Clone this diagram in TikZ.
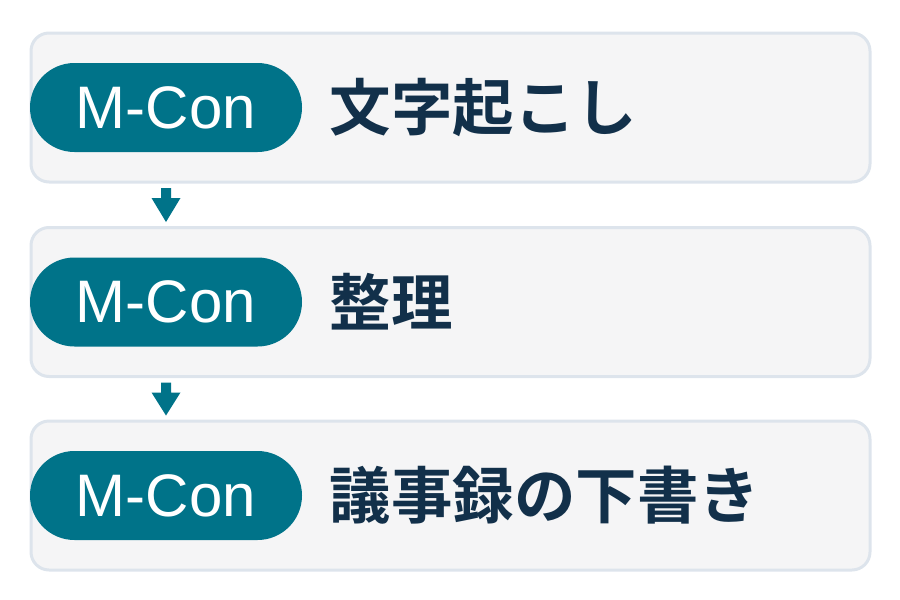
\documentclass[tikz,border=0pt]{standalone}
\usepackage{fontspec}
\setmainfont{Liberation Sans}
\newfontfamily\cjkb{Noto Sans CJK JP Bold}
\definecolor{boxfill}{HTML}{F5F5F6}
\definecolor{boxline}{HTML}{DDE4EC}
\definecolor{teal}{HTML}{007389}
\definecolor{navy}{HTML}{12304A}
\begin{document}
\begin{tikzpicture}[x=1pt,y=-1pt,
  stepbox/.style={draw=boxline,line width=3pt,fill=boxfill,rounded corners=18pt,minimum width=839pt,minimum height=149pt,inner sep=0pt},
  pill/.style={fill=teal,rounded corners=44.5pt,minimum width=272pt,minimum height=89pt,inner sep=0pt,text=white,font=\fontsize{60}{60}\selectfont},
  jlabel/.style={anchor=west,inner sep=0pt,text=navy,font=\cjkb\fontsize{61.5}{61.5}\selectfont},
  flowarrow/.style={fill=teal}]
\useasboundingbox (0,0) rectangle (900,600);
\foreach \i/\yc/\txt in {1/107.5/文字起こし,2/302/整理,3/495.5/議事録の下書き}{
  \node[stepbox] (b\i) at (450.5,\yc) {};
  \node[pill] (p\i) at (166,\yc) {M-Con};
  \node[jlabel] (t\i) at (329.5,\yc) {\txt};
}
\foreach \a/\b in {1/2,2/3}{
  \coordinate (s\a) at ([yshift=-4.5pt]b\a.south -| p\a.center);
  \coordinate (e\a) at ([yshift=4pt]b\b.north -| p\b.center);
  \fill[flowarrow] ([xshift=-5pt]s\a) -- ([shift={(-5,10)}]s\a) -- ([shift={(-14.5,10)}]s\a) -- (e\a)
    -- ([shift={(14.5,10)}]s\a) -- ([shift={(5,10)}]s\a) -- ([xshift=5pt]s\a) -- cycle;
}
\end{tikzpicture}
\end{document}
